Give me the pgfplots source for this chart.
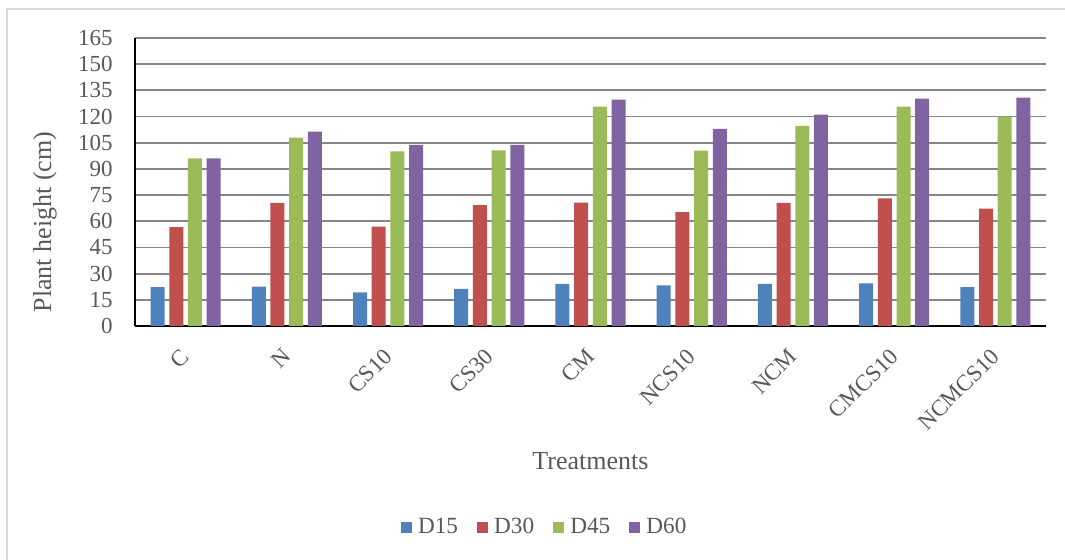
\documentclass[border=0pt]{standalone}
\usepackage{pgfplots}
\usepackage{pgfplotstable}
\pgfplotsset{compat=1.18}
\usepackage{fontspec}
\setmainfont{Liberation Serif}

\definecolor{dblue}{HTML}{4F81BD}
\definecolor{dred}{HTML}{C0504D}
\definecolor{dgreen}{HTML}{9BBB59}
\definecolor{dpurple}{HTML}{8064A2}
\definecolor{gridgray}{HTML}{878787}
\definecolor{txtgray}{HTML}{595959}
\definecolor{framegray}{HTML}{D9D9D9}

% plant height (cm) per treatment at 15, 30, 45 and 60 days
\pgfplotstableread{
idx  D15   D30   D45    D60
0    22.2  56.7  96.1   96.1
1    22.5  70.5  107.9  111.3
2    19.3  56.9  100.1  103.7
3    21.2  69.3  100.6  103.7
4    24.1  70.7  125.7  129.7
5    23.3  65.3  100.5  112.9
6    24.1  70.5  114.6  121.1
7    24.4  73.1  125.7  130.3
8    22.3  67.2  119.9  130.8
}\heights

\begin{document}
\begin{tikzpicture}
\path[use as bounding box] (-67.5pt,-117pt) rectangle (465pt,163pt);
\draw[framegray, line width=0.75pt] (-64pt,-140pt) -- (-64pt,158.5pt) -- (480pt,158.5pt);
\begin{axis}[
  scale only axis,
  width=455.5pt, height=144pt,
  ybar=2.35pt, bar width=7pt,
  xmin=-0.5, xmax=8.5,
  ymin=0, ymax=165,
  ytick={0,15,...,165},
  xtick={0,...,8},
  xticklabels={C,N,CS10,CS30,CM,NCS10,NCM,CMCS10,NCMCS10},
  axis x line*=bottom, axis y line*=left,
  axis line style={-, black, line width=1pt},
  major tick length=0pt,
  ymajorgrids,
  grid style={gridgray, line width=0.9pt},
  /pgf/number format/assume math mode=true,
  ticklabel style={font=\fontsize{11.5}{13}\selectfont, text=txtgray},
  yticklabel style={anchor=east, inner sep=0pt},
  yticklabel shift=11pt,
  xticklabel style={xshift=-2.8pt, rotate=45, anchor=north east, inner sep=0pt},
  xticklabel shift=10.5pt,
  xlabel={Treatments},
  ylabel={Plant height (cm)},
  label style={font=\fontsize{13}{15}\selectfont, text=txtgray},
  x label style={at={(axis description cs:0.5,-0.469)}, anchor=center},
  y label style={at={(axis description cs:-0.0988,0.361)}, anchor=center},
  legend columns=4,
  legend style={at={(axis description cs:0.45,-0.698)}, anchor=center,
    draw=none, fill=none, font=\fontsize{11.6}{13}\selectfont, text=txtgray,
    nodes={inner sep=1.4pt},
    /tikz/every even column/.append style={column sep=8pt}},
  legend image code/.code={\fill[#1] (0pt,-2.75pt) rectangle (5.5pt,2.75pt);
    \path (7.3pt,0pt);},
]
\addplot[fill=dblue, draw=none] table[x=idx, y=D15] {\heights};
\addplot[fill=dred, draw=none] table[x=idx, y=D30] {\heights};
\addplot[fill=dgreen, draw=none] table[x=idx, y=D45] {\heights};
\addplot[fill=dpurple, draw=none] table[x=idx, y=D60] {\heights};
\legend{D15,D30,D45,D60}
\end{axis}
\end{tikzpicture}
\end{document}
